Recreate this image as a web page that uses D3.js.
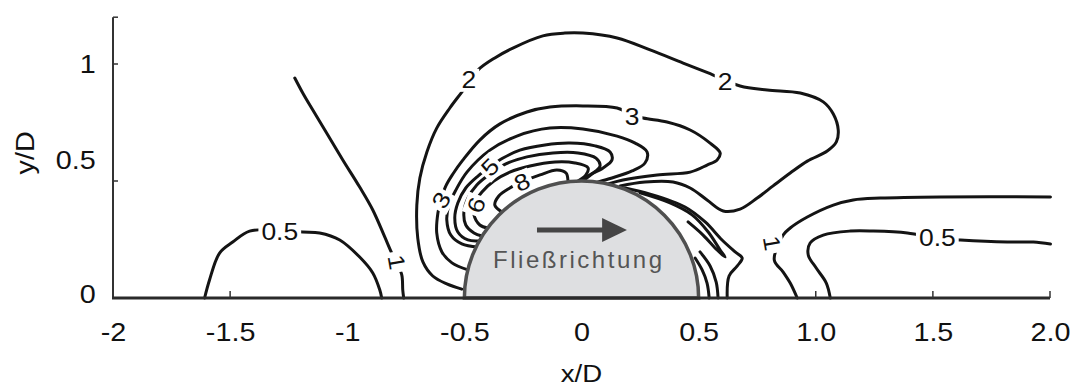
<!DOCTYPE html>
<html><head><meta charset="utf-8">
<script src="https://cdn.jsdelivr.net/npm/d3@7"></script>
<style>
html,body{margin:0;padding:0;background:#fff;}
svg{display:block;font-family:"Liberation Sans",Arial,sans-serif;}
</style></head><body>
<svg id="chart" width="1073" height="390"></svg>
<script>
// Axis ticks
const xTicks = [-2, -1.5, -1, -0.5, 0, 0.5, 1, 1.5, 2];
const xTickLabels = ["-2", "-1.5", "-1", "-0.5", "0", "0.5", "1.0", "1.5", "2.0"];
const yTicks = [0, 0.5, 1];
const yTickLabels = ["0", "0.5", "1"];

// Iso-lines around the half cylinder, points as [x/D, y/D]
const contour05Left = [[-1.609,0],[-1.588,0.077],[-1.545,0.192],[-1.489,0.239],[-1.417,0.286],[-1.288,0.290],[-1.190,0.282],[-1.118,0.278],[-1.032,0.248],[-0.947,0.175],[-0.891,0.107],[-0.861,0.034],[-0.853,0]];
const contour1Left = [[-1.224,0.940],[-1.190,0.876],[-1.147,0.803],[-1.088,0.705],[-1.019,0.590],[-0.947,0.474],[-0.891,0.376],[-0.840,0.261],[-0.810,0.192],[-0.788,0.150],[-0.767,0.098],[-0.763,0.034],[-0.759,0]];
const contour2 = [[-0.511,0.038],[-0.575,0.060],[-0.635,0.094],[-0.677,0.154],[-0.699,0.256],[-0.703,0.397],[-0.690,0.513],[-0.660,0.624],[-0.618,0.726],[-0.562,0.812],[-0.511,0.880],[-0.442,0.974],[-0.370,1.026],[-0.293,1.068],[-0.165,1.120],[-0.071,1.132],[0.006,1.132],[0.152,1.111],[0.293,1.060],[0.434,1.004],[0.541,0.962],[0.677,0.906],[0.793,0.889],[0.934,0.876],[1.032,0.838],[1.075,0.786],[1.096,0.718],[1.088,0.667],[1.049,0.628],[0.964,0.585],[0.891,0.534],[0.818,0.479],[0.750,0.427],[0.677,0.380],[0.605,0.372],[0.536,0.419],[0.464,0.470],[0.391,0.496],[0.271,0.496],[0.165,0.479]];
const contour3 = [[-0.485,0.120],[-0.553,0.150],[-0.596,0.197],[-0.618,0.278],[-0.613,0.363],[-0.600,0.419],[-0.579,0.479],[-0.549,0.530],[-0.506,0.590],[-0.434,0.675],[-0.348,0.744],[-0.233,0.795],[-0.135,0.816],[0.006,0.821],[0.152,0.812],[0.207,0.786],[0.263,0.769],[0.365,0.752],[0.464,0.718],[0.549,0.662],[0.592,0.620],[0.579,0.590],[0.536,0.568],[0.464,0.538],[0.323,0.526],[0.177,0.504],[0.113,0.487]];
const contour4 = [[-0.442,0.218],[-0.511,0.231],[-0.558,0.269],[-0.575,0.333],[-0.566,0.397],[-0.536,0.462],[-0.489,0.538],[-0.391,0.632],[-0.276,0.692],[-0.135,0.726],[0.006,0.722],[0.152,0.692],[0.229,0.662],[0.280,0.624],[0.271,0.577],[0.216,0.543],[0.130,0.513],[0.071,0.496]];
const contour5 = [[-0.434,0.244],[-0.485,0.248],[-0.528,0.282],[-0.541,0.342],[-0.528,0.406],[-0.494,0.470],[-0.442,0.521],[-0.391,0.560],[-0.335,0.598],[-0.263,0.632],[-0.156,0.654],[-0.049,0.662],[0.058,0.650],[0.122,0.624],[0.130,0.590],[0.092,0.556],[0.036,0.526],[-0.006,0.500]];
const contour6 = [[-0.425,0.265],[-0.459,0.278],[-0.494,0.312],[-0.502,0.368],[-0.485,0.427],[-0.447,0.483],[-0.391,0.530],[-0.323,0.573],[-0.233,0.603],[-0.122,0.620],[-0.015,0.620],[0.062,0.598],[0.079,0.564],[0.045,0.530],[0.011,0.504]];
const contour7 = [[-0.400,0.299],[-0.434,0.312],[-0.459,0.355],[-0.455,0.406],[-0.425,0.453],[-0.374,0.500],[-0.306,0.538],[-0.220,0.564],[-0.113,0.581],[-0.028,0.577],[0.028,0.556],[0.019,0.526],[-0.015,0.500]];
const contour8 = [[-0.340,0.368],[-0.370,0.397],[-0.353,0.436],[-0.306,0.470],[-0.254,0.496],[-0.177,0.526],[-0.105,0.547],[-0.066,0.534],[-0.058,0.504]];
const contour1Right = [[2.002,0.432],[1.532,0.432],[1.276,0.427],[1.160,0.419],[1.075,0.397],[0.964,0.346],[0.891,0.299],[0.861,0.269],[0.823,0.162],[0.861,0.111],[0.891,0.064],[0.921,0]];
const contour05Right = [[1.062,0],[1.045,0.064],[1.002,0.128],[0.968,0.184],[0.976,0.235],[1.032,0.269],[1.147,0.286],[1.246,0.286],[1.391,0.278],[1.519,0.256],[1.618,0.248],[1.818,0.239],[1.929,0.239],[2.002,0.231]];
const wakeLineA = [[0.186,0.470],[0.293,0.444],[0.442,0.389],[0.528,0.325],[0.600,0.248],[0.656,0.197],[0.686,0.171],[0.665,0.137],[0.630,0.094],[0.622,0]];
const wakeLineB = [[0.250,0.449],[0.378,0.406],[0.472,0.355],[0.541,0.282],[0.592,0.205],[0.613,0.175],[0.579,0.205],[0.519,0.269],[0.455,0.325]];
const wakeLineC = [[0.485,0.171],[0.515,0.120],[0.536,0.064],[0.545,0]];
const wakeLineD = [[0.506,0.197],[0.549,0.137],[0.575,0.068],[0.583,0]];

const contourLines = [contour05Left, contour1Left, contour2, contour3, contour4, contour5, contour6, contour7, contour8,
  contour1Right, contour05Right, wakeLineA, wakeLineB, wakeLineC, wakeLineD];

// Level labels: text and anchor point on the line [x/D, y/D]
const labelTexts = ["0.5", "1", "2", "2", "3", "3", "5", "6", "8", "1", "0.5"];
const labelPoints = [[-1.288,0.282],[-0.788,0.154],[-0.481,0.932],[0.613,0.923],[-0.600,0.419],[0.216,0.774],[-0.391,0.560],[-0.451,0.397],[-0.254,0.496],[0.814,0.235],[1.519,0.256]];
const labelAngles = [0, 80, 0, 0, -60, 0, -45, -70, -25, 80, 0];

const svg = d3.select("#chart");
const x = d3.scaleLinear().domain([-2, 2]).range([113, 1050]);
const y = d3.scaleLinear().domain([0, 1.2]).range([298, 17.2]);
const wide = "scale(1.15,1)";

const line = d3.line().x(d => x(d[0])).y(d => y(d[1])).curve(d3.curveCatmullRom.alpha(0.5));

// contour lines
svg.append("g").selectAll("path").data(contourLines).join("path")
  .attr("d", line)
  .attr("fill", "none")
  .attr("stroke", "#141414")
  .attr("stroke-width", 3)
  .attr("stroke-linecap", "round")
  .attr("stroke-linejoin", "round");

// level labels on a white patch that breaks the line
const labels = svg.append("g").selectAll("g").data(labelTexts).join("g")
  .attr("transform", (d, i) => `translate(${x(labelPoints[i][0])},${y(labelPoints[i][1])}) rotate(${labelAngles[i]})`);
labels.append("text")
  .attr("transform", wide)
  .attr("text-anchor", "middle")
  .attr("dy", "0.36em")
  .attr("font-size", 23)
  .attr("fill", "#111")
  .text(d => d);
labels.each(function () {
  const g = d3.select(this);
  const b = g.select("text").node().getBBox();
  const w = b.width * 1.15;
  g.insert("rect", "text")
    .attr("x", -w / 2 - 3).attr("y", b.y + 1)
    .attr("width", w + 6).attr("height", b.height - 2)
    .attr("fill", "#fff");
});

// half cylinder
const r = x(0.5) - x(0);
svg.append("path")
  .attr("transform", `translate(${x(0)},${y(0)})`)
  .attr("d", d3.arc()({innerRadius: 0, outerRadius: r, startAngle: -Math.PI / 2, endAngle: Math.PI / 2}))
  .attr("fill", "#dedfe1")
  .attr("stroke", "#505050")
  .attr("stroke-width", 3.5);

// flow direction arrow
const ay = y(0.291);
svg.append("line")
  .attr("x1", x(-0.19)).attr("x2", x(0.10))
  .attr("y1", ay).attr("y2", ay)
  .attr("stroke", "#454545").attr("stroke-width", 5);
svg.append("path")
  .attr("d", `M${x(0.088)},${ay - 12}L${x(0.194)},${ay}L${x(0.088)},${ay + 12}Z`)
  .attr("fill", "#454545");
svg.append("text")
  .attr("x", x(-0.017)).attr("y", y(0.128))
  .attr("text-anchor", "middle")
  .attr("font-size", 24)
  .attr("fill", "#555")
  .attr("textLength", 169)
  .text("Fließrichtung");

// axes
const xAxis = svg.append("g").attr("transform", `translate(0,${y(0)})`)
  .call(d3.axisBottom(x).tickValues(xTicks).tickFormat((d, i) => xTickLabels[i]).tickSize(0).tickPadding(25));
const yAxis = svg.append("g").attr("transform", `translate(${x(-2)},0)`)
  .call(d3.axisLeft(y).tickValues(yTicks).tickFormat((d, i) => yTickLabels[i]).tickSize(0).tickPadding(15));
[xAxis, yAxis].forEach(g => {
  g.select(".domain").remove();
  g.selectAll("text").attr("font-family", "Liberation Sans").attr("font-size", 25).attr("fill", "#111");
});
xAxis.selectAll(".tick text").attr("transform", wide);
yAxis.selectAll(".tick text").attr("transform", d => (d === 0.5 ? "translate(0,-21) " : d === 0 ? "translate(0,-4) " : "") + wide);

// axis lines and inner tick marks
svg.append("line").attr("x1", x(-2)).attr("x2", x(-2)).attr("y1", y(1.2)).attr("y2", y(0))
  .attr("stroke", "#333").attr("stroke-width", 2);
svg.append("line").attr("x1", x(-2)).attr("x2", x(-2) + 5).attr("y1", y(1.2)).attr("y2", y(1.2))
  .attr("stroke", "#333").attr("stroke-width", 1.5);
svg.append("line").attr("x1", x(-2) - 1).attr("x2", x(2)).attr("y1", y(0)).attr("y2", y(0))
  .attr("stroke", "#2a2a2a").attr("stroke-width", 3);
svg.append("g").selectAll("line").data([-1.5, 1, 1.5, 2]).join("line")
  .attr("x1", d => x(d)).attr("x2", d => x(d))
  .attr("y1", y(0)).attr("y2", y(0) - 7)
  .attr("stroke", "#333").attr("stroke-width", 1.5);
svg.append("g").selectAll("line").data([0.5, 1]).join("line")
  .attr("x1", x(-2)).attr("x2", x(-2) + 5)
  .attr("y1", d => y(d)).attr("y2", d => y(d))
  .attr("stroke", "#333").attr("stroke-width", 1.5);

// axis titles
svg.append("text").attr("transform", `translate(${x(0)},382) ${wide}`).attr("text-anchor", "middle")
  .attr("font-size", 24).attr("fill", "#111").text("x/D");
svg.append("text").attr("transform", `translate(34,${y(0.62)}) rotate(-90) ${wide}`).attr("text-anchor", "middle")
  .attr("font-size", 25).attr("fill", "#111").text("y/D");
</script>
</body></html>
